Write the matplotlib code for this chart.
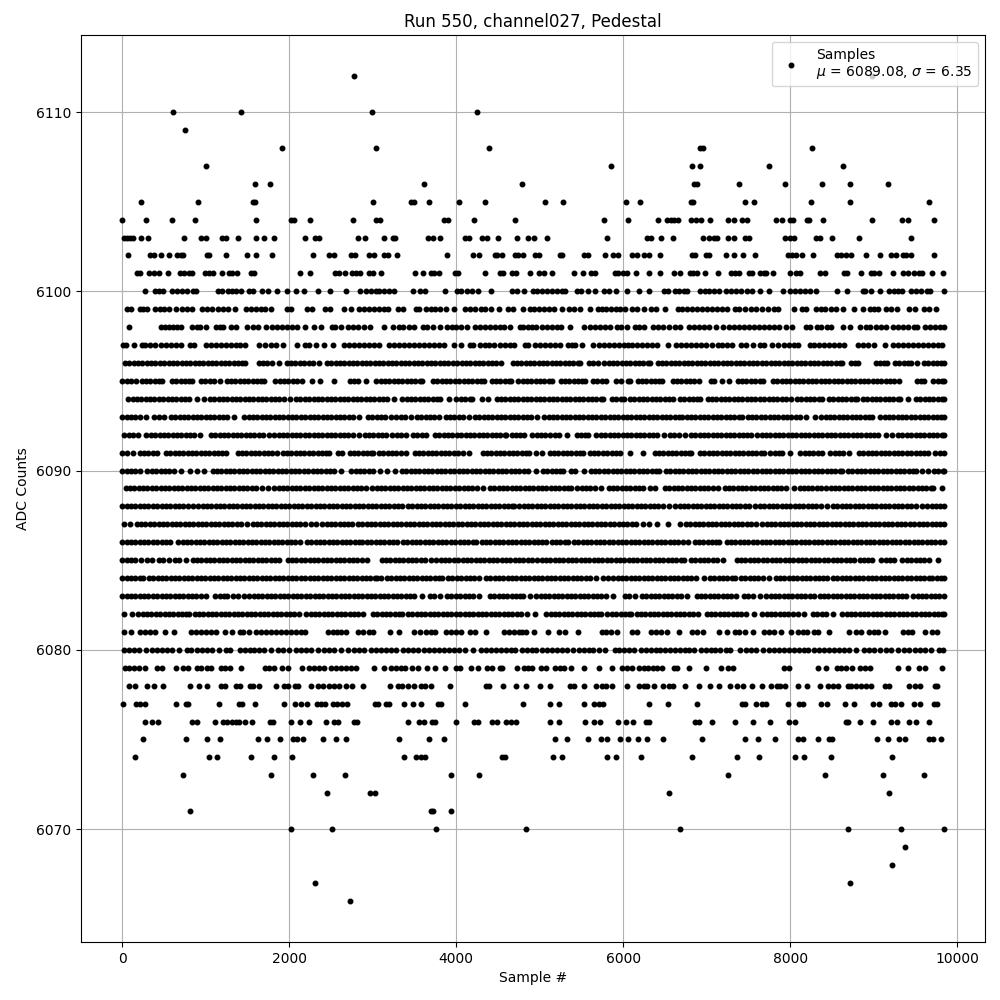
import matplotlib
matplotlib.use('Agg')
import matplotlib.pyplot as plt
import numpy as np

# sample numbers, one list per ADC level
adc_6112 = [2780, 8984]
adc_6110 = [608, 1424, 2996, 4244]
adc_6109 = [752]
adc_6108 = [1916, 3044, 4388, 6916, 6956, 8264]
adc_6107 = [1004, 5852, 6824, 6924, 7748, 8636]
adc_6106 = [1592, 1772, 3620, 4784, 6848, 6880, 7388, 7940, 8384, 8720, 9176]
adc_6105 = [224, 908, 1572, 1596, 3008, 3460, 3500, 3680, 4028, 4340, 5060, 5276, 6032, 6200, 6816, 6840, 7460, 7568, 8252, 8720, 9656]
adc_6104 = [0, 284, 596, 872, 1604, 2028, 2064, 2252, 2768, 3036, 3092, 3860, 3900, 4208, 4700, 5768, 6056, 6416, 6528, 6568, 6608, 6656,
            6816, 6868, 6928, 7040, 7256, 7328, 7428, 7480, 7832, 7904, 7992, 8032, 8196, 8220, 8396, 8984, 9344, 9416, 9716]
adc_6103 = [20, 60, 100, 132, 224, 308, 740, 944, 1004, 1192, 1240, 1388, 1604, 1700, 1820, 2192, 2308, 2356, 2828, 2912, 3140, 3240, 3268,
            3668, 3728, 3812, 4108, 4148, 4304, 4364, 4496, 4724, 4860, 4928, 5084, 5804, 6288, 6336, 6452, 6596, 6956, 7028, 7088, 7128,
            7256, 7328, 7456, 7504, 7940, 8000, 8048, 8308, 8356, 8504, 8828, 9440]
adc_6102 = [68, 340, 388, 464, 556, 660, 700, 732, 1012, 1044, 1244, 1496, 1604, 1796, 2288, 2476, 2532, 2740, 2788, 2960, 3012, 3140, 3180,
            3296, 3896, 4196, 4268, 4460, 4484, 4544, 4708, 4740, 4796, 4948, 4996, 5240, 5272, 5536, 5584, 5780, 5876, 5932, 6104, 6168,
            6248, 6312, 6440, 6824, 6864, 6988, 7024, 7232, 7328, 7436, 7580, 7976, 8016, 8064, 8144, 8276, 8560, 8608, 8664, 8732, 8912,
            9080, 9208, 9264, 9356, 9392, 9448, 9716]
adc_6101 = [180, 220, 320, 380, 444, 544, 692, 740, 796, 840, 988, 1040, 1092, 1196, 1280, 1312, 1376, 1540, 1576, 2132, 2252, 2552, 2596,
            2672, 2748, 2800, 2852, 2960, 3000, 3100, 3512, 3608, 3700, 3740, 3796, 3988, 4020, 4348, 4520, 4560, 4668, 4720, 4884, 4988,
            5056, 5144, 5408, 5516, 5616, 5668, 5904, 5936, 6000, 6040, 6152, 6308, 6440, 6604, 6680, 6796, 6840, 6888, 6980, 7136, 7288,
            7336, 7384, 7504, 7548, 7640, 7680, 7712, 7796, 7992, 8072, 8112, 8356, 8416, 8648, 8680, 8852, 8968, 9008, 9068, 9236, 9356,
            9416, 9480, 9536, 9576, 9692, 9824]
adc_6100 = [272, 392, 440, 484, 592, 652, 712, 780, 852, 888, 1148, 1200, 1264, 1312, 1360, 1420, 1516, 1572, 1680, 1748, 1856, 1976, 2088,
            2180, 2348, 2492, 2684, 2852, 2924, 2980, 3040, 3080, 3140, 3200, 3260, 3488, 3572, 3628, 3864, 4012, 4060, 4132, 4188, 4260,
            4420, 4668, 4724, 4808, 4920, 4968, 5028, 5088, 5148, 5208, 5268, 5308, 5448, 5496, 5580, 5660, 5776, 5828, 5916, 6044, 6188,
            6308, 6488, 6540, 6620, 6668, 6728, 6768, 6920, 6976, 7028, 7088, 7148, 7228, 7288, 7348, 7408, 7488, 7548, 7640, 7748, 7912,
            8000, 8056, 8120, 8176, 8240, 8308, 8560, 8676, 8868, 8896, 8972, 9080, 9188, 9240, 9296, 9340, 9448, 9508, 9568, 9640, 9672, 9840]
adc_6099 = [60, 108, 212, 252, 304, 400, 452, 500, 560, 644, 712, 772, 840, 956, 1020, 1080, 1152, 1212, 1264, 1352, 1480, 1540, 1600, 1660,
            1708, 1784, 1976, 2028, 2212, 2276, 2428, 2484, 2660, 2744, 2840, 2900, 2960, 3020, 3080, 3140, 3188, 3308, 3364, 3520, 3560,
            3640, 3700, 3752, 3804, 3884, 3980, 4108, 4160, 4220, 4300, 4340, 4420, 4508, 4620, 4684, 4796, 4888, 4936, 4992, 5056, 5108,
            5168, 5268, 5348, 5408, 5480, 5600, 5696, 5748, 5800, 5848, 5908, 5956, 6016, 6108, 6168, 6248, 6336, 6396, 6496, 6656, 6708,
            6768, 6828, 6888, 6948, 7008, 7068, 7128, 7184, 7248, 7336, 7392, 7456, 7528, 7588, 7656, 7728, 7800, 7848, 8048, 8136, 8188,
            8308, 8368, 8416, 8488, 8548, 8628, 8768, 8876, 8960, 9008, 9056, 9148, 9208, 9280, 9428, 9488, 9600, 9656, 9740]
adc_6098 = [80, 460, 508, 560, 612, 660, 708, 840, 892, 932, 1008, 1120, 1172, 1212, 1300, 1364, 1500, 1564, 1628, 1720, 1800, 1860, 1920,
            1980, 2040, 2100, 2192, 2292, 2384, 2508, 2548, 2620, 2700, 2760, 2828, 2900, 2972, 3140, 3248, 3320, 3360, 3440, 3492, 3600,
            3648, 3728, 3804, 3892, 3948, 4004, 4060, 4124, 4220, 4280, 4340, 4400, 4460, 4520, 4572, 4644, 4760, 4804, 4856, 4908, 4960,
            5032, 5088, 5148, 5208, 5256, 5368, 5528, 5600, 5668, 5728, 5788, 5840, 5920, 5976, 6048, 6136, 6192, 6248, 6360, 6416, 6480,
            6548, 6616, 6680, 6788, 6848, 6908, 6968, 7028, 7108, 7200, 7268, 7328, 7388, 7448, 7508, 7568, 7628, 7688, 7748, 7808, 7868,
            7952, 8016, 8188, 8240, 8320, 8368, 8440, 8488, 8632, 8716, 8840, 8908, 8960, 9028, 9088, 9148, 9228, 9288, 9348, 9416, 9480,
            9520, 9616, 9672, 9728, 9788, 9840]
adc_6097 = [12, 52, 140, 240, 280, 340, 400, 460, 520, 580, 640, 700, 812, 860, 1004, 1060, 1120, 1180, 1240, 1300, 1360, 1412, 1472, 1640,
            1708, 1788, 1840, 1928, 2092, 2188, 2240, 2320, 2420, 2520, 2660, 2720, 2780, 2840, 2900, 2960, 3020, 3072, 3200, 3260, 3320,
            3380, 3440, 3500, 3560, 3620, 3680, 3740, 3800, 3860, 3980, 4052, 4160, 4200, 4280, 4340, 4388, 4452, 4520, 4580, 4640, 4692,
            4820, 4860, 4948, 5008, 5068, 5128, 5188, 5240, 5336, 5388, 5428, 5504, 5640, 5708, 5768, 5828, 5888, 5948, 6008, 6056, 6108,
            6168, 6228, 6288, 6348, 6400, 6532, 6628, 6688, 6748, 6808, 6868, 6928, 6988, 7068, 7136, 7188, 7248, 7308, 7416, 7468, 7560,
            7640, 7688, 7776, 7856, 7928, 7988, 8048, 8088, 8232, 8288, 8348, 8408, 8468, 8528, 8588, 8648, 8816, 8868, 8928, 9008, 9140,
            9228, 9288, 9348, 9408, 9468, 9528, 9588, 9648, 9708, 9768, 9816]
adc_6096 = [36, 88, 140, 192, 244, 296, 348, 400, 452, 504, 556, 608, 660, 712, 764, 816, 868, 920, 972, 1024, 1076, 1128, 1180, 1232, 1284, 1336, 1388, 1440, 1476,
            1636, 1688, 1740, 1792, 1876, 1972, 2024, 2076, 2128, 2180, 2232, 2284, 2356, 2452, 2504, 2556, 2608, 2660, 2712, 2764, 2816, 2868, 2920, 2972, 3024, 3076, 3128,
            3180, 3232, 3284, 3336, 3388, 3440, 3492, 3544, 3596, 3648, 3700, 3752, 3804, 3856, 3908, 3960, 4012, 4064, 4116, 4168, 4220, 4272, 4324, 4376, 4428, 4480, 4536,
            4676, 4728, 4780, 4832, 4884, 4936, 4988, 5040, 5092, 5144, 5196, 5248, 5300, 5352, 5404, 5456, 5484, 5592, 5644, 5696, 5772, 5824, 5876, 5928, 5980, 6032, 6084,
            6136, 6188, 6240, 6292, 6324, 6412, 6464, 6516, 6568, 6620, 6672, 6724, 6776, 6828, 6880, 6932, 6984, 7036, 7088, 7140, 7192, 7244, 7296, 7348, 7400, 7452, 7504,
            7556, 7608, 7660, 7712, 7764, 7816, 7868, 7920, 7972, 8024, 8076, 8128, 8180, 8232, 8284, 8336, 8388, 8440, 8492, 8544, 8596, 8624, 8732, 8780, 8816, 9024, 9076,
            9128, 9164, 9256, 9308, 9360, 9412, 9444, 9520, 9600, 9652, 9704, 9756, 9808, 9840]
adc_6095 = [4, 56, 108, 164, 236, 288, 340, 392, 444, 476, 596, 648, 700, 752, 804, 836, 944, 996, 1048, 1100, 1176, 1252, 1304, 1356, 1408, 1460, 1512, 1564, 1616, 1668, 1696,
            1836, 1888, 1940, 1992, 2044, 2096, 2156, 2272, 2364, 2532, 2724, 2776, 2828, 2916, 3044, 3096, 3148, 3200, 3252, 3304, 3356, 3408, 3460, 3512, 3564, 3596,
            3724, 3776, 3828, 3880, 3932, 3984, 4036, 4088, 4140, 4192, 4244, 4296, 4336, 4424, 4476, 4528, 4580, 4632, 4656, 4744, 4796, 4848, 4900, 4952, 5004, 5056, 5108, 5144,
            5252, 5304, 5356, 5408, 5460, 5512, 5544, 5640, 5692, 5744, 5792, 5908, 5968, 6052, 6084, 6172, 6224, 6276, 6328, 6380, 6432, 6464, 6592, 6644, 6696, 6748, 6800, 6852, 6904,
            7052, 7084, 7180, 7272, 7372, 7424, 7476, 7528, 7580, 7632, 7672, 7792, 7844, 7896, 7948, 8000, 8052, 8104, 8156, 8208, 8260, 8312, 8364, 8416, 8468, 8520, 8572, 8624,
            8676, 8728, 8780, 8832, 8884, 8936, 8988, 9040, 9092, 9144, 9196, 9248, 9304, 9512, 9564, 9604, 9712, 9764, 9816, 9840]
adc_6094 = [76, 128, 180, 232, 284, 336, 388, 440, 492, 544, 596, 648, 700, 752, 804, 892, 976, 1052, 1104, 1156, 1208, 1260, 1312, 1364, 1416, 1468, 1520, 1572, 1624, 1676, 1728, 1780,
            1832, 1884, 1936, 2016, 2084, 2136, 2188, 2240, 2292, 2344, 2396, 2448, 2500, 2552, 2604, 2656, 2708, 2760, 2812, 2864, 2916, 2968, 3020, 3072, 3124, 3176, 3256,
            3356, 3408, 3460, 3512, 3564, 3616, 3668, 3720, 3772, 3804, 3912, 4004, 4056, 4108, 4160, 4188, 4304, 4376, 4484, 4536, 4588, 4640, 4692, 4744, 4796, 4848, 4900, 4952,
            5004, 5056, 5108, 5160, 5212, 5264, 5316, 5368, 5420, 5472, 5524, 5576, 5628, 5680, 5732, 5764, 5864, 5916, 5968, 6004, 6080, 6132, 6184, 6236, 6288, 6340, 6392, 6444,
            6496, 6548, 6592, 6680, 6732, 6784, 6836, 6888, 6924, 7012, 7064, 7116, 7168, 7220, 7272, 7324, 7376, 7428, 7480, 7532, 7584, 7636, 7688, 7740, 7792, 7844, 7896, 7948, 8004,
            8080, 8132, 8184, 8236, 8288, 8340, 8376, 8464, 8516, 8568, 8620, 8672, 8724, 8776, 8804, 8872, 8924, 8976, 9028, 9080, 9132, 9184, 9236, 9288, 9312, 9416,
            9504, 9556, 9608, 9660, 9712, 9764, 9816, 9840]
adc_6093 = [4, 56, 108, 160, 212, 284, 384, 436, 504, 584, 636, 688, 740, 792, 844, 896, 948, 1000, 1052, 1104, 1156, 1208, 1260, 1336, 1464, 1516, 1568, 1620, 1672, 1724, 1776, 1828,
            1880, 1932, 1984, 2036, 2088, 2140, 2192, 2244, 2296, 2348, 2400, 2452, 2504, 2556, 2608, 2660, 2712, 2764, 2840, 2944, 2996, 3048, 3100, 3152, 3216, 3284, 3336, 3388, 3464,
            3532, 3584, 3636, 3688, 3740, 3796, 3876, 3928, 3980, 4032, 4084, 4148, 4224, 4276, 4328, 4380, 4432, 4484, 4536, 4588, 4640, 4692, 4744, 4796, 4848, 4900, 4964,
            5056, 5108, 5160, 5212, 5264, 5316, 5368, 5420, 5472, 5524, 5576, 5628, 5680, 5732, 5784, 5836, 5888, 5940, 5992, 6044, 6096, 6148, 6200, 6252, 6304, 6356, 6408, 6460,
            6512, 6564, 6616, 6668, 6704, 6760, 6812, 6864, 6916, 6968, 7020, 7072, 7124, 7176, 7228, 7280, 7332, 7384, 7424, 7492, 7544, 7596, 7648, 7700, 7752, 7804, 7856, 7908,
            7960, 8012, 8064, 8112, 8192, 8296, 8372, 8424, 8476, 8528, 8580, 8632, 8684, 8736, 8788, 8840, 8892, 8944, 8976, 9080, 9132, 9184, 9236, 9288, 9340, 9392, 9444,
            9496, 9548, 9600, 9652, 9704, 9756, 9808, 9840]
adc_6092 = [28, 80, 132, 196, 292, 344, 396, 448, 500, 552, 604, 656, 708, 760, 812, 864, 936, 1064, 1116, 1168, 1220, 1272, 1324, 1376, 1428, 1480, 1532, 1584, 1636, 1688, 1756,
            1824, 1876, 1928, 1980, 2032, 2084, 2136, 2188, 2240, 2292, 2344, 2396, 2448, 2500, 2552, 2604, 2656, 2708, 2760, 2836, 2904, 2956, 3008, 3060, 3112, 3156, 3236, 3288, 3340, 3404,
            3484, 3536, 3588, 3636, 3748, 3800, 3852, 3904, 3956, 4008, 4060, 4112, 4164, 4216, 4268, 4320, 4372, 4424, 4476, 4528, 4580, 4596, 4664, 4716, 4768, 4816, 4912, 4964, 5016, 5068, 5124,
            5184, 5236, 5324, 5444, 5496, 5548, 5576, 5680, 5732, 5784, 5836, 5888, 5940, 5992, 6044, 6096, 6148, 6200, 6252, 6304, 6356, 6408, 6484, 6560, 6612, 6664, 6744,
            6812, 6864, 6916, 6968, 7020, 7072, 7124, 7176, 7228, 7280, 7332, 7384, 7436, 7488, 7536, 7604, 7656, 7708, 7760, 7812, 7864, 7916, 7968, 8020, 8072, 8124, 8176, 8228,
            8280, 8332, 8384, 8436, 8488, 8540, 8592, 8644, 8696, 8748, 8800, 8852, 8904, 8956, 9008, 9056, 9144, 9224, 9292, 9344, 9396, 9448, 9500, 9552, 9604, 9656, 9708, 9760, 9812, 9840]
adc_6091 = [4, 56, 136, 212, 264, 316, 368, 420, 524, 576, 628, 680, 732, 784, 836, 888, 940, 992, 1044, 1096, 1148, 1200, 1244, 1384, 1436, 1488, 1540, 1592, 1644, 1696, 1748, 1800, 1856,
            1924, 1976, 2028, 2080, 2132, 2184, 2236, 2288, 2340, 2392, 2444, 2476, 2584, 2628, 2724, 2776, 2828, 2880, 2932, 2984, 3004, 3076, 3128, 3180, 3232, 3284, 3336, 3396,
            3504, 3556, 3608, 3660, 3712, 3764, 3816, 3868, 3920, 3972, 4024, 4076, 4148, 4316, 4368, 4420, 4472, 4524, 4576, 4628, 4680, 4732, 4784, 4836, 4876, 4952, 5028,
            5120, 5172, 5224, 5276, 5328, 5380, 5432, 5484, 5524, 5600, 5652, 5704, 5756, 5808, 5860, 5912, 5964, 6080, 6232, 6376, 6428, 6480, 6532, 6584, 6636, 6688, 6740, 6792, 6816,
            6920, 6972, 7024, 7076, 7128, 7180, 7232, 7284, 7336, 7388, 7440, 7492, 7544, 7596, 7648, 7684, 7760, 7812, 7864, 7904, 7992, 8120, 8172, 8224, 8276, 8328, 8376, 8480, 8532, 8584, 8636, 8704,
            8824, 8876, 8928, 8980, 9032, 9084, 9136, 9188, 9240, 9292, 9344, 9396, 9448, 9500, 9552, 9604, 9644, 9736, 9788, 9840]
adc_6090 = [4, 56, 108, 160, 216, 304, 356, 408, 460, 512, 564, 616, 708, 812, 896, 980, 1084, 1136, 1188, 1240, 1292, 1344, 1396, 1448, 1500, 1552, 1604, 1656, 1708, 1760, 1812, 1864, 1916,
            1968, 2020, 2072, 2124, 2176, 2228, 2280, 2332, 2384, 2436, 2488, 2540, 2616, 2744, 2796, 2848, 2900, 2952, 3004, 3084, 3172, 3268, 3352, 3404, 3456, 3508, 3560, 3612, 3664, 3716,
            3768, 3820, 3872, 3924, 3976, 4028, 4080, 4132, 4184, 4236, 4288, 4340, 4392, 4444, 4496, 4548, 4600, 4652, 4704, 4756, 4812, 4864, 4956, 5040, 5092, 5144, 5196, 5248, 5280, 5372, 5424,
            5528, 5612, 5664, 5716, 5768, 5820, 5872, 5924, 5976, 6028, 6080, 6132, 6184, 6236, 6288, 6340, 6392, 6432, 6512, 6564, 6616, 6668, 6720, 6772, 6824, 6876, 6928, 6980, 7032, 7084, 7136,
            7188, 7240, 7292, 7344, 7396, 7448, 7500, 7552, 7604, 7656, 7708, 7760, 7812, 7864, 7916, 7968, 8020, 8072, 8124, 8176, 8228, 8280, 8332, 8384, 8436, 8488, 8540, 8592, 8616,
            8692, 8744, 8796, 8848, 8900, 8952, 9004, 9056, 9108, 9160, 9212, 9264, 9316, 9368, 9420, 9472, 9504, 9572, 9644, 9720, 9772, 9824, 9840]
adc_6089 = [44, 96, 148, 200, 252, 304, 356, 408, 460, 512, 564, 616, 668, 720, 772, 824, 876, 928, 980, 1032, 1084, 1136, 1188, 1240, 1292, 1344, 1396, 1448, 1500, 1552, 1604, 1676, 1752,
            1824, 1876, 1928, 1980, 2032, 2084, 2136, 2188, 2240, 2292, 2344, 2396, 2448, 2500, 2552, 2604, 2656, 2708, 2760, 2812, 2864, 2916, 2996, 3048, 3100, 3152, 3204, 3256, 3308, 3360, 3412,
            3464, 3516, 3568, 3620, 3672, 3724, 3776, 3828, 3880, 3932, 3984, 4036, 4088, 4140, 4192, 4244, 4316, 4404, 4456, 4508, 4560, 4612, 4664, 4716, 4768, 4820, 4872, 4924, 4976, 5028, 5080,
            5132, 5184, 5236, 5288, 5340, 5376, 5452, 5504, 5556, 5608, 5660, 5736, 5824, 5876, 5928, 5980, 6032, 6084, 6136, 6188, 6232, 6320, 6384, 6500, 6552, 6604, 6656, 6708, 6760, 6812, 6864, 6916,
            6968, 7020, 7072, 7136, 7216, 7268, 7320, 7372, 7424, 7476, 7528, 7580, 7632, 7684, 7736, 7788, 7840, 7892, 7944, 8044, 8120, 8160, 8212, 8264, 8316, 8364, 8432, 8484, 8536, 8588, 8640, 8692,
            8744, 8796, 8848, 8900, 8952, 9004, 9056, 9108, 9160, 9212, 9264, 9316, 9368, 9420, 9472, 9524, 9576, 9628, 9680, 9704, 9816]
adc_6088 = [4, 56, 108, 160, 212, 264, 316, 368, 420, 472, 524, 576, 628, 680, 732, 784, 844, 912, 964, 1016, 1068, 1120, 1172, 1224, 1276, 1328, 1380, 1432, 1484, 1536, 1588, 1640, 1692, 1744,
            1796, 1848, 1900, 1952, 2004, 2056, 2108, 2160, 2212, 2264, 2316, 2368, 2420, 2472, 2524, 2576, 2628, 2676, 2732, 2784, 2836, 2888, 2940, 2992, 3044, 3096, 3148, 3200, 3252, 3304, 3356, 3424,
            3476, 3528, 3580, 3632, 3684, 3736, 3788, 3840, 3892, 3944, 3996, 4048, 4100, 4152, 4204, 4256, 4308, 4360, 4412, 4464, 4516, 4568, 4620, 4672, 4696, 4756, 4808, 4860, 4912, 4964, 5016, 5068,
            5120, 5172, 5224, 5276, 5328, 5380, 5432, 5484, 5536, 5588, 5640, 5692, 5744, 5796, 5848, 5900, 5952, 6004, 6056, 6108, 6160, 6212, 6264, 6316, 6368, 6420, 6472, 6544, 6624, 6676, 6728, 6780,
            6832, 6884, 6936, 6988, 7040, 7092, 7144, 7196, 7248, 7300, 7352, 7404, 7456, 7504, 7584, 7636, 7688, 7740, 7792, 7844, 7896, 7948, 8000, 8052, 8104, 8156, 8208, 8260, 8312, 8364, 8444,
            8512, 8564, 8616, 8668, 8720, 8772, 8824, 8876, 8928, 8980, 9032, 9084, 9136, 9188, 9240, 9292, 9344, 9396, 9448, 9500, 9576, 9640, 9692, 9744, 9796, 9840]
adc_6087 = [28, 96, 176, 228, 280, 332, 384, 436, 488, 540, 592, 644, 696, 748, 800, 852, 904, 956, 1008, 1060, 1112, 1164, 1216, 1268, 1320, 1372, 1424, 1496, 1564, 1616, 1668, 1720, 1772, 1824,
            1876, 1928, 1980, 2032, 2084, 2136, 2188, 2256, 2320, 2396, 2448, 2500, 2552, 2604, 2656, 2708, 2756, 2824, 2876, 2928, 2980, 3032, 3084, 3136, 3188, 3240, 3292, 3344, 3396, 3448, 3500, 3552,
            3604, 3656, 3708, 3760, 3812, 3864, 3916, 3968, 4020, 4072, 4124, 4176, 4228, 4280, 4332, 4384, 4436, 4488, 4540, 4592, 4644, 4696, 4748, 4800, 4852, 4904, 4956, 5008, 5060, 5112, 5164, 5216,
            5268, 5320, 5372, 5424, 5476, 5528, 5580, 5632, 5684, 5736, 5788, 5840, 5892, 5944, 5996, 6048, 6100, 6152, 6232, 6304, 6404, 6532, 6684, 6752, 6804, 6856, 6908, 6960, 7012, 7064, 7116, 7168, 7220,
            7272, 7324, 7376, 7428, 7480, 7532, 7592, 7664, 7716, 7768, 7820, 7872, 7924, 7976, 8028, 8080, 8132, 8184, 8236, 8288, 8340, 8392, 8444, 8496, 8548, 8600, 8652, 8704, 8756, 8808, 8860, 8912,
            8964, 9016, 9068, 9120, 9172, 9224, 9276, 9328, 9380, 9432, 9484, 9536, 9588, 9640, 9692, 9744, 9796, 9840]
adc_6086 = [4, 56, 108, 160, 212, 264, 316, 368, 420, 472, 524, 576, 672, 724, 776, 828, 880, 932, 984, 1036, 1088, 1140, 1192, 1244, 1296, 1348, 1400, 1452, 1504, 1556, 1608, 1660, 1712, 1764,
            1816, 1868, 1920, 1972, 2024, 2076, 2128, 2212, 2264, 2316, 2368, 2420, 2472, 2524, 2576, 2628, 2680, 2732, 2784, 2836, 2868, 2932, 2984, 3036, 3088, 3140, 3192, 3244, 3296, 3364, 3416, 3468,
            3520, 3572, 3624, 3676, 3728, 3780, 3832, 3884, 3936, 3988, 4040, 4092, 4144, 4196, 4236, 4304, 4356, 4408, 4460, 4512, 4564, 4616, 4668, 4720, 4772, 4824, 4876, 4928, 4980, 5032, 5072, 5144, 5196, 5248,
            5300, 5344, 5412, 5464, 5516, 5568, 5620, 5672, 5724, 5776, 5828, 5880, 5932, 5984, 6036, 6088, 6140, 6192, 6244, 6296, 6348, 6400, 6452, 6504, 6556, 6608, 6660, 6712, 6776, 6856, 6908, 6960, 7012,
            7064, 7116, 7152, 7240, 7292, 7344, 7396, 7448, 7500, 7552, 7604, 7656, 7708, 7760, 7812, 7864, 7916, 7968, 8020, 8072, 8124, 8176, 8228, 8280, 8332, 8384, 8436, 8488, 8540, 8592, 8644, 8696,
            8748, 8800, 8852, 8904, 8956, 9008, 9060, 9112, 9164, 9216, 9268, 9320, 9372, 9424, 9476, 9528, 9580, 9632, 9684, 9736, 9788, 9840]
adc_6085 = [4, 56, 108, 160, 228, 300, 356, 436, 488, 564, 628, 680, 764, 844, 896, 948, 1000, 1052, 1104, 1156, 1208, 1260, 1312, 1364, 1416, 1468, 1520, 1572, 1624, 1676, 1728, 1780, 1832, 1884,
            1984, 2036, 2088, 2140, 2192, 2244, 2296, 2348, 2400, 2452, 2504, 2556, 2608, 2660, 2712, 2764, 2816, 2868, 2928, 3108, 3160, 3212, 3264, 3316, 3368, 3420, 3472, 3524, 3576, 3628, 3696, 3764,
            3816, 3868, 3920, 3972, 4024, 4076, 4128, 4180, 4232, 4284, 4336, 4388, 4440, 4492, 4544, 4596, 4648, 4700, 4752, 4804, 4856, 4904, 4972, 5024, 5076, 5128, 5180, 5232, 5284, 5336, 5388, 5440, 5492,
            5544, 5596, 5648, 5700, 5752, 5804, 5856, 5908, 5960, 6012, 6064, 6116, 6168, 6220, 6272, 6324, 6376, 6428, 6480, 6532, 6584, 6636, 6688, 6724, 6812, 6864, 6916, 6968, 7020, 7072, 7124, 7192,
            7360, 7412, 7464, 7516, 7568, 7620, 7672, 7724, 7776, 7828, 7880, 7932, 7984, 8036, 8088, 8140, 8192, 8244, 8296, 8344, 8404, 8456, 8508, 8560, 8612, 8664, 8716, 8764, 8832, 8884, 8936, 8984,
            9092, 9144, 9196, 9244, 9344, 9396, 9448, 9500, 9552, 9604, 9664, 9764]
adc_6084 = [4, 56, 108, 160, 212, 256, 320, 372, 424, 476, 528, 580, 632, 684, 736, 788, 840, 892, 944, 996, 1048, 1100, 1152, 1204, 1256, 1308, 1360, 1412, 1464, 1516, 1568, 1620, 1672, 1724, 1776,
            1828, 1880, 1932, 1984, 2036, 2088, 2140, 2192, 2244, 2296, 2348, 2400, 2452, 2504, 2556, 2608, 2660, 2712, 2764, 2816, 2868, 2920, 2972, 3024, 3056, 3100, 3172, 3224, 3276, 3328, 3380, 3432,
            3484, 3536, 3588, 3640, 3692, 3744, 3796, 3836, 3904, 3956, 4008, 4060, 4112, 4164, 4216, 4276, 4356, 4408, 4460, 4512, 4564, 4616, 4668, 4720, 4772, 4824, 4876, 4928, 4980, 5032, 5084, 5136,
            5188, 5240, 5292, 5344, 5396, 5448, 5500, 5552, 5604, 5680, 5760, 5816, 5880, 5932, 5984, 6036, 6088, 6140, 6192, 6244, 6296, 6348, 6400, 6452, 6504, 6556, 6608, 6660, 6712, 6764, 6816, 6868,
            6964, 7040, 7092, 7144, 7196, 7248, 7300, 7344, 7412, 7464, 7516, 7568, 7620, 7672, 7744, 7824, 7876, 7928, 7980, 8032, 8084, 8136, 8188, 8240, 8292, 8344, 8396, 8444, 8512, 8564, 8616, 8668,
            8720, 8772, 8824, 8876, 8928, 8980, 9032, 9084, 9136, 9188, 9240, 9292, 9344, 9396, 9448, 9500, 9552, 9604, 9656, 9696, 9752, 9804, 9840]
adc_6083 = [4, 56, 108, 160, 212, 264, 316, 368, 420, 472, 524, 576, 628, 680, 732, 784, 836, 888, 940, 1004, 1116, 1168, 1220, 1256, 1332, 1384, 1456, 1524, 1576, 1628, 1680, 1732, 1784, 1836,
            1888, 1940, 1992, 2044, 2096, 2148, 2200, 2252, 2304, 2356, 2408, 2460, 2512, 2564, 2616, 2668, 2720, 2772, 2824, 2876, 2928, 2980, 3032, 3084, 3136, 3188, 3240, 3292, 3344, 3396, 3448, 3500, 3588,
            3684, 3736, 3804, 3892, 3944, 3996, 4048, 4100, 4152, 4204, 4276, 4404, 4456, 4508, 4560, 4612, 4664, 4716, 4768, 4804, 4880, 4960, 5012, 5064, 5116, 5168, 5220, 5272, 5324, 5376, 5428, 5480,
            5532, 5584, 5636, 5688, 5740, 5792, 5872, 6016, 6068, 6144, 6224, 6276, 6328, 6380, 6432, 6484, 6536, 6588, 6640, 6692, 6764, 6880, 6932, 6984, 7036, 7088, 7140, 7192, 7244, 7296, 7352, 7448,
            7500, 7552, 7632, 7712, 7764, 7816, 7868, 7920, 7972, 8024, 8076, 8128, 8180, 8232, 8284, 8352, 8404, 8456, 8508, 8560, 8612, 8664, 8716, 8768, 8820, 8872, 8924, 8976, 9028, 9080, 9132, 9184,
            9236, 9288, 9340, 9392, 9464, 9524, 9576, 9628, 9680, 9732, 9784, 9840]
adc_6082 = [24, 124, 196, 248, 300, 352, 404, 456, 508, 560, 612, 664, 716, 768, 796, 868, 920, 972, 1024, 1076, 1128, 1180, 1232, 1284, 1336, 1388, 1440, 1492, 1544, 1596, 1648, 1700, 1752, 1804,
            1856, 1908, 1960, 2012, 2064, 2116, 2204, 2256, 2308, 2360, 2412, 2464, 2516, 2568, 2620, 2672, 2724, 2776, 2828, 2884, 3004, 3056, 3108, 3160, 3212, 3264, 3316, 3356, 3424, 3476, 3528, 3580,
            3632, 3684, 3736, 3788, 3840, 3892, 3944, 3996, 4048, 4100, 4152, 4204, 4256, 4308, 4360, 4412, 4464, 4516, 4568, 4620, 4672, 4724, 4776, 4852, 4944, 5080, 5132, 5184, 5236, 5288, 5340, 5392,
            5444, 5496, 5548, 5600, 5652, 5704, 5736, 5812, 5864, 5916, 5968, 6020, 6072, 6096, 6160, 6212, 6264, 6316, 6368, 6420, 6472, 6524, 6576, 6628, 6680, 6732, 6784, 6836, 6896, 7000, 7052, 7104,
            7156, 7208, 7260, 7312, 7364, 7416, 7468, 7564, 7664, 7716, 7768, 7820, 7872, 7924, 7976, 8028, 8096, 8168, 8272, 8324, 8376, 8428, 8512, 8624, 8676, 8728, 8780, 8832, 8884, 8936, 8988, 9040,
            9092, 9144, 9196, 9248, 9300, 9352, 9404, 9456, 9508, 9560, 9612, 9664, 9716, 9768, 9820, 9840]
adc_6081 = [20, 108, 212, 280, 340, 392, 512, 620, 828, 880, 940, 1000, 1060, 1120, 1232, 1316, 1412, 1452, 1520, 1600, 1660, 1720, 1780, 1840, 1900, 1960, 2020, 2080, 2140, 2188, 2468, 2520, 2572,
            2620, 2680, 2820, 2880, 2960, 3000, 3212, 3320, 3500, 3568, 3640, 3700, 3752, 3884, 3940, 4000, 4052, 4160, 4220, 4352, 4572, 4628, 4692, 4748, 4788, 4840, 4928, 5096, 5228, 5300, 5456, 5744,
            5800, 5848, 5928, 6108, 6160, 6336, 6388, 6448, 6520, 6668, 6828, 6880, 6960, 7148, 7244, 7336, 7388, 7456, 7556, 7688, 7748, 7800, 7892, 8012, 8088, 8148, 8200, 8280, 8328, 8464, 8704, 8788,
            8848, 8948, 9000, 9056, 9140, 9352, 9408, 9456, 9616, 9696, 9752]
adc_6080 = [20, 80, 140, 200, 292, 360, 420, 480, 540, 600, 680, 772, 828, 900, 960, 1020, 1080, 1160, 1240, 1292, 1412, 1468, 1528, 1580, 1640, 1700, 1788, 1868, 1932, 2000, 2080, 2140, 2200, 2260,
            2340, 2412, 2480, 2540, 2620, 2700, 2780, 2840, 2900, 2980, 3040, 3100, 3160, 3220, 3280, 3360, 3420, 3480, 3540, 3620, 3680, 3740, 3800, 3860, 3920, 3972, 4032, 4100, 4200, 4300, 4360, 4420,
            4480, 4540, 4600, 4652, 4700, 4788, 4848, 4908, 4960, 5028, 5088, 5148, 5208, 5268, 5328, 5400, 5468, 5528, 5588, 5640, 5708, 5788, 5896, 5948, 6008, 6068, 6128, 6208, 6268, 6328, 6388, 6440,
            6496, 6556, 6616, 6676, 6736, 6788, 6848, 6928, 6988, 7048, 7096, 7156, 7228, 7280, 7400, 7468, 7528, 7588, 7668, 7748, 7808, 7868, 7928, 7988, 8048, 8108, 8160, 8216, 8280, 8348, 8400, 8468,
            8528, 8588, 8648, 8708, 8788, 8880, 8948, 9008, 9080, 9148, 9208, 9288, 9368, 9428, 9488, 9548, 9608, 9680, 9784, 9832]
adc_6079 = [40, 80, 140, 200, 272, 420, 480, 644, 732, 788, 892, 948, 1012, 1068, 1180, 1228, 1296, 1424, 1708, 1760, 1820, 1912, 1988, 2156, 2240, 2300, 2360, 2420, 2500, 2560, 2620, 2680, 2740, 2800,
            3020, 3132, 3220, 3280, 3340, 3388, 3468, 3548, 3656, 3752, 3872, 4000, 4040, 4172, 4256, 4372, 4428, 4520, 4552, 4724, 4808, 4856, 4908, 5016, 5080, 5188, 5248, 5296, 5372, 5528, 5708, 5864,
            5988, 6040, 6100, 6188, 6248, 6296, 6352, 6408, 6468, 6608, 6648, 6788, 6992, 7176, 7256, 7312, 7928, 7988, 8336, 8428, 8556, 8608, 8668, 8736, 8832, 8896, 8960, 9296, 9408, 9536, 9608, 9812]
adc_6078 = [80, 160, 296, 380, 488, 812, 916, 1012, 1180, 1232, 1360, 1408, 1528, 1572, 1640, 1844, 1940, 1988, 2068, 2112, 2264, 2348, 2400, 2480, 2540, 2600, 2684, 2748, 2888, 3212, 3308, 3352, 3420,
            3500, 3580, 3628, 3704, 3932, 4352, 4388, 4560, 4712, 4832, 5000, 5120, 5368, 5416, 5528, 5672, 5748, 5800, 5864, 6044, 6188, 6248, 6280, 6368, 6480, 6548, 6600, 6740, 6908, 7040, 7148, 7280,
            7360, 7436, 7544, 7664, 7768, 7840, 7880, 7932, 8096, 8200, 8360, 8448, 8512, 8576, 8688, 8728, 8788, 8848, 8908, 8968, 9136, 9180, 9428, 9496, 9552, 9728, 9760]
adc_6077 = [8, 172, 220, 272, 644, 760, 792, 1160, 1400, 1440, 1592, 1940, 2072, 2140, 2216, 2332, 2380, 2428, 2520, 2572, 2636, 2688, 3028, 3060, 3160, 3192, 3380, 3488, 3584, 3780, 3820, 4100, 4800,
            5120, 5228, 5528, 5656, 5712, 5760, 6308, 6536, 6884, 7428, 7456, 7592, 7656, 7708, 7976, 8108, 8156, 8372, 8444, 8660, 8768, 8996, 9068, 9208, 9256, 9332, 9476, 9548, 9720, 9752]
adc_6076 = [272, 356, 428, 836, 900, 1108, 1204, 1260, 1312, 1360, 1400, 1472, 1560, 1772, 1812, 2028, 2132, 2240, 2440, 2532, 2580, 2772, 2812, 3428, 3560, 3612, 3708, 3752, 4004, 4212, 4260, 4428, 4484,
            4592, 4652, 4716, 5120, 5228, 5540, 5648, 5720, 5936, 6032, 6116, 6268, 6308, 6856, 6904, 7064, 7340, 7556, 7760, 7988, 8060, 8668, 8696, 8840, 8996, 9208, 9280, 9428, 9504, 9656]
adc_6075 = [248, 764, 1016, 1172, 1628, 1736, 1892, 2048, 2092, 2168, 2404, 2564, 2684, 3316, 3680, 3860, 5180, 5324, 5576, 5732, 5808, 5960, 6056, 6176, 6284, 6476, 6944, 7460, 7616, 7820, 8096, 8148,
            8336, 8468, 8504, 9044, 9176, 9308, 9380, 9656, 9708, 9800]
adc_6074 = [152, 1040, 1136, 1544, 1820, 2036, 3380, 3524, 3580, 3628, 4548, 4588, 5156, 5264, 5804, 5912, 6212, 6824, 7364, 7628, 8060, 8168, 8492, 9224]
adc_6073 = [728, 1784, 2288, 2672, 3944, 4268, 7256, 8420, 9116, 9596]
adc_6072 = [2456, 2972, 3032, 6548, 9188]
adc_6071 = [812, 3700, 3720, 3944]
adc_6070 = [2024, 2516, 3764, 4840, 6680, 8696, 9332, 9836]
adc_6069 = [9380]
adc_6068 = [9224]
adc_6067 = [2312, 8720]
adc_6066 = [2732]

levels = {6112: adc_6112, 6110: adc_6110, 6109: adc_6109, 6108: adc_6108, 6107: adc_6107, 6106: adc_6106, 6105: adc_6105,
          6104: adc_6104, 6103: adc_6103, 6102: adc_6102, 6101: adc_6101, 6100: adc_6100, 6099: adc_6099, 6098: adc_6098,
          6097: adc_6097, 6096: adc_6096, 6095: adc_6095, 6094: adc_6094, 6093: adc_6093, 6092: adc_6092, 6091: adc_6091,
          6090: adc_6090, 6089: adc_6089, 6088: adc_6088, 6087: adc_6087, 6086: adc_6086, 6085: adc_6085, 6084: adc_6084,
          6083: adc_6083, 6082: adc_6082, 6081: adc_6081, 6080: adc_6080, 6079: adc_6079, 6078: adc_6078, 6077: adc_6077,
          6076: adc_6076, 6075: adc_6075, 6074: adc_6074, 6073: adc_6073, 6072: adc_6072, 6071: adc_6071, 6070: adc_6070,
          6069: adc_6069, 6068: adc_6068, 6067: adc_6067, 6066: adc_6066}

mean_adc = 6089.08
std_adc = 6.35

samples = np.concatenate([np.array(v) for v in levels.values()])
counts = np.concatenate([np.full(len(v), k) for k, v in levels.items()])

plt.figure(figsize=(10, 10))
plt.plot(samples, counts, '.', color='k', markersize=6.5, label='Samples\n$\\mu$ = %.2f, $\\sigma$ = %.2f' % (mean_adc, std_adc))
plt.title('Run 550, channel027, Pedestal')
plt.xlabel('Sample #')
plt.ylabel('ADC Counts')
plt.legend(loc='upper right')
plt.grid()
plt.subplots_adjust(left=0.081, right=0.985, bottom=0.058, top=0.965)
plt.savefig('out.png', dpi=100)
